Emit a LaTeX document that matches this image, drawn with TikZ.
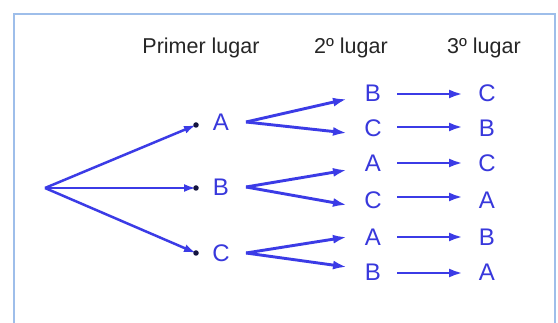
\documentclass[tikz,border=0pt]{standalone}
\usepackage{fontspec}
\setmainfont{Liberation Sans}
\usetikzlibrary{arrows.meta}
\definecolor{frameblue}{HTML}{9EBEEA}
\definecolor{treeblue}{HTML}{3B3BE6}
\definecolor{letterblue}{HTML}{3838DC}
\definecolor{dotnavy}{HTML}{141440}
\tikzset{
  arr/.style={draw=treeblue, line width=2.9pt, -{Latex[length=14pt,width=9pt]}},
  rootarr/.style={draw=treeblue, line width=2.5pt, -{Latex[length=12pt,width=8pt]}},
  lett/.style={text=letterblue, font=\fontsize{24}{26}\selectfont, anchor=base, inner sep=0pt},
  ttl/.style={text=black!85, font=\fontsize{21.5}{24}\selectfont, anchor=base, inner sep=0pt},
  dotp/.style={circle, fill=dotnavy, inner sep=0pt, minimum size=5.5pt},
}
\begin{document}
\begin{tikzpicture}[x=1pt,y=-1pt]
\useasboundingbox (0,0) rectangle (558,323);
\fill[white] (0,0) rectangle (558,323);
\draw[frameblue, line width=2.4pt] (14,340) -- (14,14) -- (555,14) -- (555,340);
% titles
\node[ttl] (t1) at (201,54) {Primer lugar};
\node[ttl] (t2) at (351,54) {2º lugar};
\node[ttl] (t3) at (484,54) {3º lugar};
% root and dots
\coordinate (r) at (45,188);
\coordinate (cA) at (196,125);
\coordinate (cB) at (196,188);
\coordinate (cC) at (196,253);
\draw[rootarr] (r) -- (cA);
\draw[rootarr] (r) -- (cB);
\draw[rootarr] (r) -- (cC);
\node[dotp] (dA) at (cA) {};
\node[dotp] (dB) at (cB) {};
\node[dotp] (dC) at (cC) {};
% level 1 letters
\node[lett] (lA) at (221,130.5) {A};
\node[lett] (lB) at (221,195.5) {B};
\node[lett] (lC) at (221,261.5) {C};
% level 2 arrow coordinates
\coordinate (sA) at (246,122);
\coordinate (sB) at (246,187);
\coordinate (sC) at (246,253);
\coordinate (e1) at (347,99);
\coordinate (e2) at (347,133);
\coordinate (e3) at (347,170);
\coordinate (e4) at (347,205);
\coordinate (e5) at (347,237);
\coordinate (e6) at (347,267);
\draw[arr] (sA) -- (e1);
\draw[arr] (sA) -- (e2);
\draw[arr] (sB) -- (e3);
\draw[arr] (sB) -- (e4);
\draw[arr] (sC) -- (e5);
\draw[arr] (sC) -- (e6);
% level 2 letters
\node[lett] (m1) at (373,101.5) {B};
\node[lett] (m2) at (373,136.5) {C};
\node[lett] (m3) at (373,171.5) {A};
\node[lett] (m4) at (373,208.5) {C};
\node[lett] (m5) at (373,245.5) {A};
\node[lett] (m6) at (373,280.5) {B};
% level 3 arrows
\foreach \i/\y in {1/94,2/127,3/163,4/197,5/237,6/273}{
  \coordinate (p\i) at (397,\y);
  \coordinate (q\i) at (463,\y);
  \draw[arr] (p\i) -- (q\i);
}
% level 3 letters
\node[lett] (n1) at (487,101.5) {C};
\node[lett] (n2) at (487,136.5) {B};
\node[lett] (n3) at (487,171.5) {C};
\node[lett] (n4) at (487,208.5) {A};
\node[lett] (n5) at (487,245.5) {B};
\node[lett] (n6) at (487,280.5) {A};
\end{tikzpicture}
\end{document}
